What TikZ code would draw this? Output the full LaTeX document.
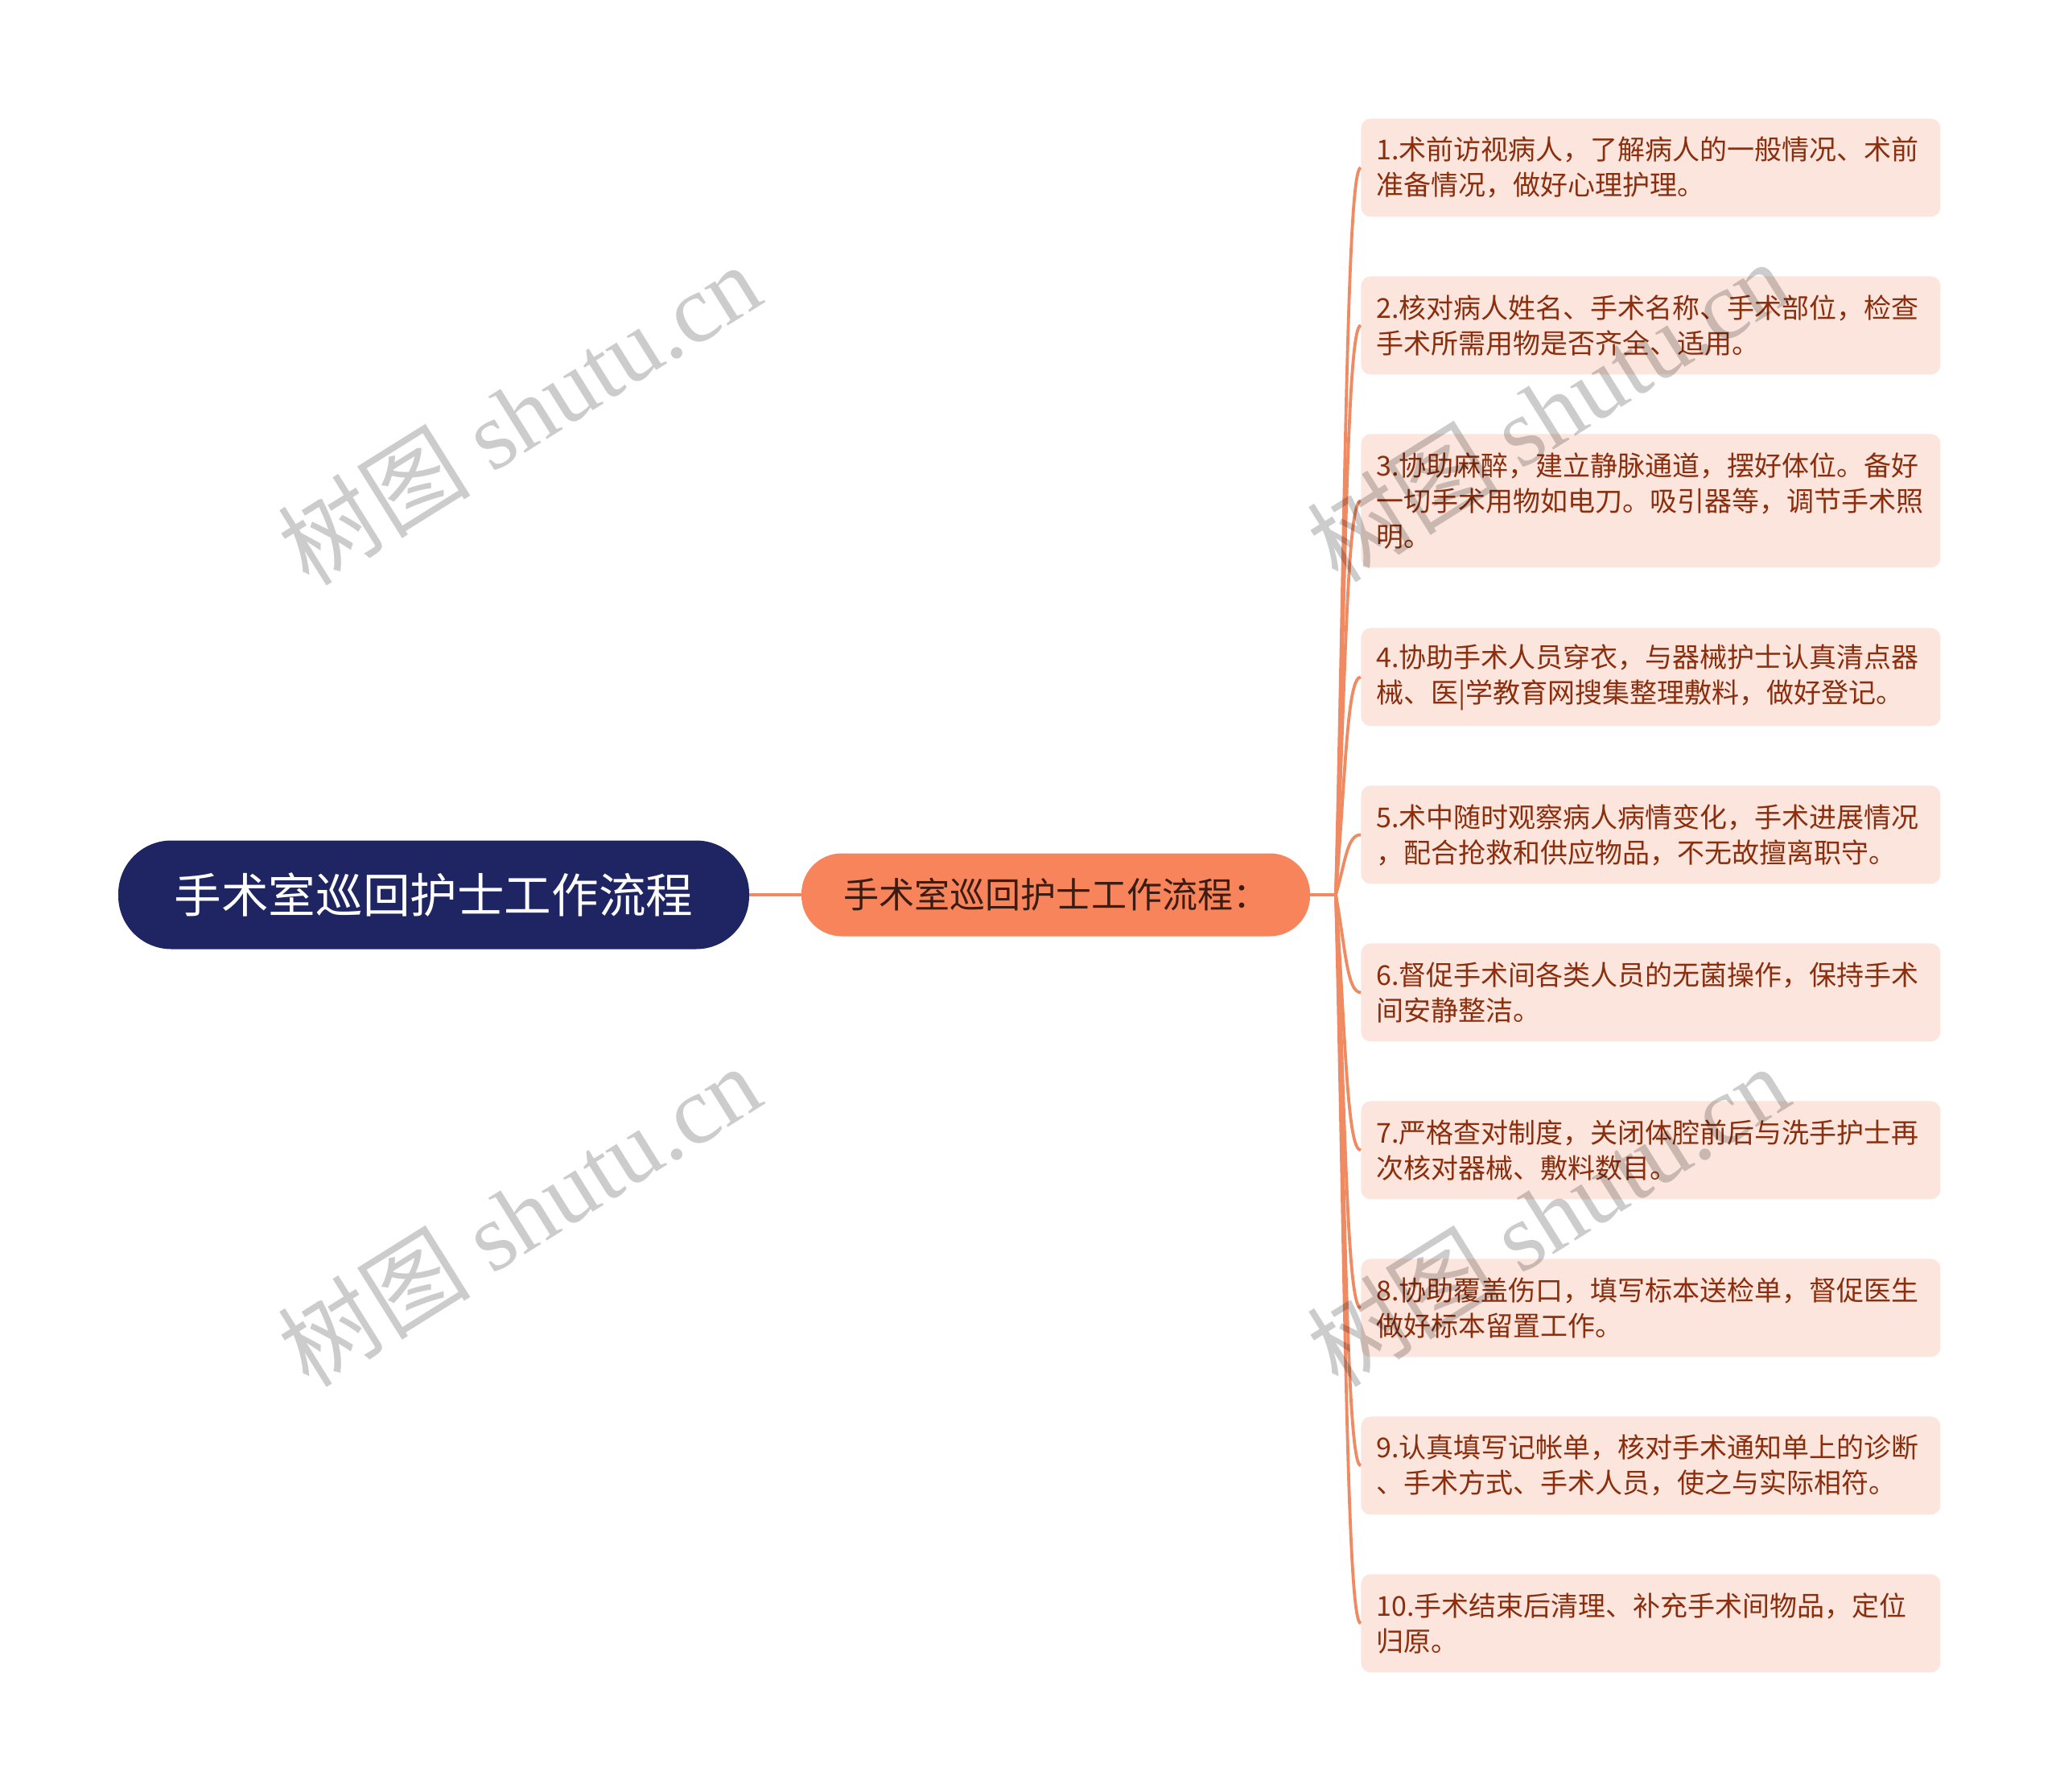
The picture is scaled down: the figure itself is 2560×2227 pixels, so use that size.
\documentclass[tikz,border=0pt]{standalone}
\usepackage{fontspec}
\setmainfont{Noto Sans CJK SC}
\newfontfamily\wmfont{Liberation Serif}
\usepackage{xcolor}
\usepackage{tikz}
\usetikzlibrary{calc}

\definecolor{rootblue}{HTML}{1F2563}
\definecolor{subcoral}{HTML}{F7845A}
\definecolor{subtext}{HTML}{3A1C12}
\definecolor{leafpink}{HTML}{FCE5DD}
\definecolor{leaftext}{HTML}{8A2E0D}
\definecolor{linecoral}{HTML}{EF8A63}

\tikzset{
  rootnode/.style={fill=rootblue, text=white, rounded corners=33pt,
    minimum width=392pt, minimum height=67.5pt, inner sep=0pt,
    font=\fontsize{29.3}{34}\selectfont},
  subnode/.style={fill=subcoral, text=subtext, rounded corners=25pt,
    minimum width=316pt, minimum height=51.5pt, inner sep=0pt,
    font=\fontsize{22}{26}\selectfont},
  leafnode/.style={anchor=north west, fill=leafpink, text=leaftext,
    rounded corners=6pt, text width=341pt, inner xsep=9.5pt, inner ysep=0pt,
    align=left, minimum height=61pt, font=\fontsize{17}{22}\selectfont},
  branch/.style={draw=linecoral, line width=1.9pt},
  watermark/.style={rotate=32, text=black, text opacity=0.2,
    font=\fontsize{60}{60}\selectfont}
}

\begin{document}
\begin{tikzpicture}[x=0.5pt, y=-0.5pt]
  \useasboundingbox (0,0) rectangle (2560,2227);

  % centre and first branch
  \node[rootnode] (root) at (539,1112) {手术室巡回护士工作流程};
  \node[subnode] (flow) at (1312,1112) {手术室巡回护士工作流程：};
  \coordinate (hub) at (1660,1112);
  \draw[branch] (root.east) -- (flow.west);
  \draw[branch] (flow.east) -- (hub);

  % the ten steps
  \node[leafnode] (l1) at (1691,147) {1.术前访视病人，了解病人的一般情况、术前\\准备情况，做好心理护理。};
  \node[leafnode] (l2) at (1691,343) {2.核对病人姓名、手术名称、手术部位，检查\\手术所需用物是否齐全、适用。};
  \node[leafnode, minimum height=83pt] (l3) at (1691,539) {3.协助麻醉，建立静脉通道，摆好体位。备好\\一切手术用物如电刀。吸引器等，调节手术照\\明。};
  \node[leafnode] (l4) at (1691,780) {4.协助手术人员穿衣，与器械护士认真清点器\\械、医|学教育网搜集整理敷料，做好登记。};
  \node[leafnode] (l5) at (1691,976) {5.术中随时观察病人病情变化，手术进展情况\\，配合抢救和供应物品，不无故擅离职守。};
  \node[leafnode] (l6) at (1691,1172) {6.督促手术间各类人员的无菌操作，保持手术\\间安静整洁。};
  \node[leafnode] (l7) at (1691,1368) {7.严格查对制度，关闭体腔前后与洗手护士再\\次核对器械、敷料数目。};
  \node[leafnode] (l8) at (1691,1564) {8.协助覆盖伤口，填写标本送检单，督促医生\\做好标本留置工作。};
  \node[leafnode] (l9) at (1691,1760) {9.认真填写记帐单，核对手术通知单上的诊断\\、手术方式、手术人员，使之与实际相符。};
  \node[leafnode] (l10) at (1691,1956) {10.手术结束后清理、补充手术间物品，定位\\归原。};

  \foreach \n in {l1,l2,l3,l4,l5,l6,l7,l8,l9,l10}
    \draw[branch] (hub) .. controls ($(hub)!0.55!(hub|-\n.west)+(12,0)$)
      and ($(hub|-\n.west)+(14,0)$) .. (\n.west);

  % watermarks
  \node[watermark] (wm1) at (645,514) {树图 {\wmfont shutu.cn}};
  \node[watermark] (wm2) at (645,1510) {树图 {\wmfont shutu.cn}};
  \node[watermark] (wm3) at (1923,510) {树图 {\wmfont shutu.cn}};
  \node[watermark] (wm4) at (1923,1510) {树图 {\wmfont shutu.cn}};
\end{tikzpicture}
\end{document}
